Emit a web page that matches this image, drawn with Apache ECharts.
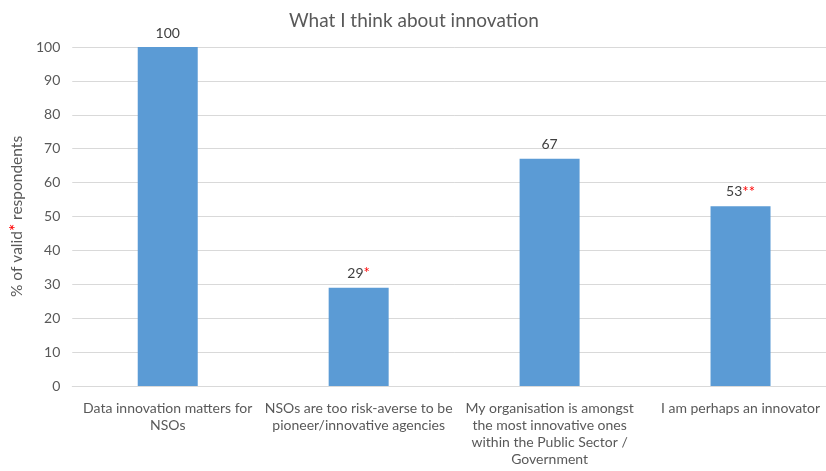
<!DOCTYPE html>
<html><head><meta charset="utf-8">
<script src="https://cdn.jsdelivr.net/npm/echarts@6/dist/echarts.min.js"></script>
<style>html,body{margin:0;padding:0;background:#fff;overflow:hidden;width:826px;height:471px}#c{width:836px;height:471px}</style>
</head><body><div id="c"></div>
<script>
var categories = [
  "Data innovation matters for\nNSOs",
  "NSOs are too risk-averse to be\npioneer/innovative agencies",
  "My organisation is amongst\nthe most innovative ones\nwithin the Public Sector /\nGovernment",
  "I am perhaps an innovator"
];
var values = [100, 29, 67, 53];
var marks = ["", "*", "", "**"];
var yTicks = {min: 0, max: 100, interval: 10};

var chart = echarts.init(document.getElementById('c'));
var font = 'Lato, "Open Sans", sans-serif';
chart.setOption({
  animation: false,
  title: {
    text: 'What I think about innovation', left: 284, top: 6,
    textStyle: {fontFamily: font, fontSize: 19, fontWeight: 'normal', color: '#595959'}
  },
  grid: {left: 67, top: 47, right: 0, bottom: 85},
  xAxis: {
    type: 'category', data: categories,
    axisLine: {lineStyle: {color: '#d9d9d9', width: 1}},
    axisTick: {show: false},
    axisLabel: {fontFamily: font, fontSize: 14, color: '#595959', lineHeight: 17, margin: 14, interval: 0}
  },
  yAxis: {
    type: 'value', min: yTicks.min, max: yTicks.max, interval: yTicks.interval,
    name: '{a|% of valid}{r|*}{a| respondents}', nameLocation: 'middle', nameGap: 41, nameRotate: 90,
    nameTextStyle: {rich: {
      a: {fontFamily: font, fontSize: 15.5, color: '#595959'},
      r: {fontFamily: font, fontSize: 17, color: '#ff0000'}
    }},
    axisLine: {show: false}, axisTick: {show: false},
    splitLine: {lineStyle: {color: '#d9d9d9', width: 1}},
    axisLabel: {fontFamily: font, fontSize: 14, color: '#595959', margin: 12}
  },
  series: [{
    type: 'bar', data: values, barWidth: 60,
    itemStyle: {color: '#5b9bd5'},
    label: {
      show: true, position: 'top', distance: 7,
      formatter: function (p) { return '{a|' + p.value + '}' + (marks[p.dataIndex] ? '{r|' + marks[p.dataIndex] + '}' : ''); },
      rich: {
        a: {fontFamily: font, fontSize: 14, color: '#404040'},
        r: {fontFamily: font, fontSize: 15, color: '#ff0000'}
      }
    }
  }]
});
</script></body></html>
